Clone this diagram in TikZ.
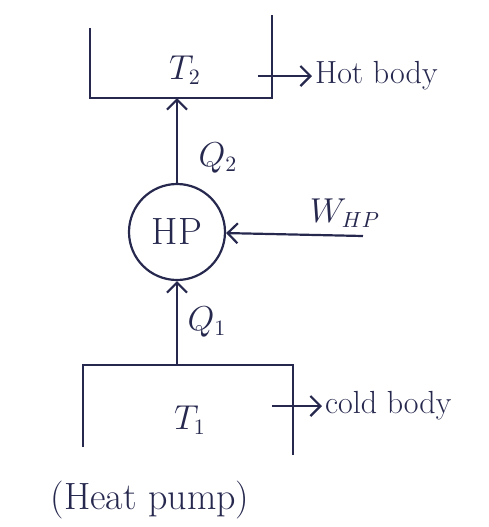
\documentclass[tikz,border=0pt]{standalone}
\usepackage{tikz}
\usetikzlibrary{arrows.meta, positioning}
\definecolor{ink}{RGB}{38,40,78}
\begin{document}
\begin{tikzpicture}[x=0.5pt, y=-0.5pt, line width=1.1pt, color=ink, >={Straight Barb[length=5pt]}, font=\fontsize{16}{19}\selectfont]
        \useasboundingbox (0,0) rectangle (489,527);
        % Reservoirs
        \draw (90,28) -- (90,98) -- (272,98) -- (272,15);
        \draw (83,447) -- (83,365) -- (293,365) -- (293,455);
        \node (t2) at (185,70) {$T_2$};
        \node (t1) at (190,420) {$T_1$};

        % Heat pump
        \node[circle, draw, minimum size=48pt, inner sep=0pt, font=\fontsize{19}{22}\selectfont] (hp) at (177,232) {HP};

        % Coordinates
        \coordinate (top2) at (177,98);
        \coordinate (base1) at (177,365);
        \coordinate (wsrc) at (363,236);
        \coordinate (tick2) at (258,76);
        \coordinate (tick1) at (272,406);

        % Labels
        \node (q2) at (218,158) {$Q_2$};
        \node (q1) at (207,322) {$Q_1$};
        \node (whp) at (345,213) {$W_{HP}$};
        \node[right, inner sep=1pt] (hot) at (312,76) {Hot body};
        \node[right, inner sep=1pt] (cold) at (322,406) {cold body};
        \node[font=\fontsize{19}{22}\selectfont] (name) at (150,500) {(Heat pump)};

        % Connections
        \draw[->] (hp.north) -- (top2);
        \draw[->] (base1) -- (hp.south);
        \draw[->] (wsrc) -- (hp);
        \draw[->] (tick2) -- (hot.west);
        \draw[->] (tick1) -- (cold.west);
\end{tikzpicture}
\end{document}
